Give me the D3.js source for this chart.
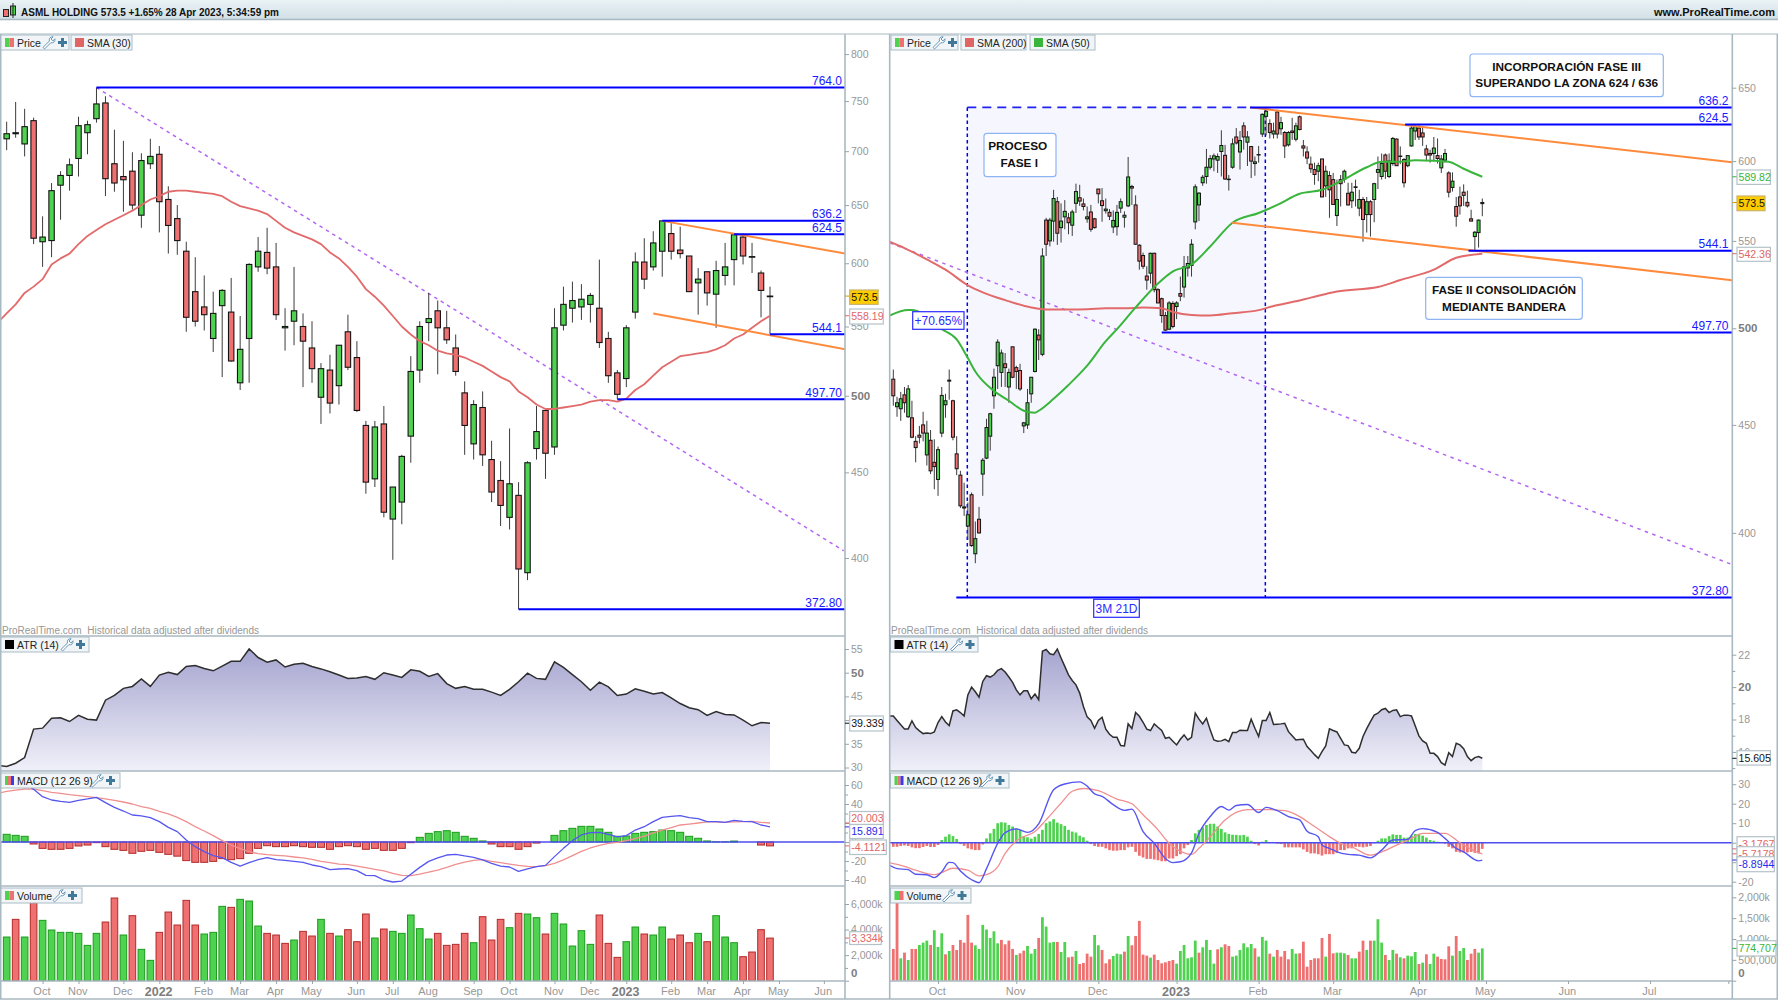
<!DOCTYPE html>
<html>
<head>
<meta charset="utf-8">
<title>ASML Holding</title>
<script src="https://cdnjs.cloudflare.com/ajax/libs/d3/7.8.5/d3.min.js"></script>
<style>
html,body{margin:0;padding:0;background:#fff;overflow:hidden}
svg{display:block}
text{font-family:"Liberation Sans",Arial,sans-serif}
</style>
</head>
<body>
<svg id="chart" width="1778" height="1000"></svg>
<script>
// ---------- weekly candles ----------
const weeklyOpen=[712,717,707,730,618,619,668,677,693,718,732,748,688,676,681,641,688,697,655,638,610,577,565,541,566,561,509,541,597,609,597,549,554,550,534,499,518,507,546,527,480,446,481,422,432,473,518,553,562,549,534,502,468,492,458,445,423,436,392,465,490,466,551,564,565,567,564,541,516,512,561,601,597,610,625,611,606,584,593,575,590,603,622,605,592,573];
const weeklyHigh=[729,749,742,733,640,670,681,693,734,730,764,755,721,710,699,698,712,705,667,650,618,605,590,577,579,588,558,600,622,630,617,564,597,560,554,523,529,536,559,539,483,483,493,441,461,528,554,576,570,562,544,510,497,503,470,457,478,444,457,493,490,564,581,585,583,576,603,546,518,551,609,621,627,636.2,634,631,606,596,593,602,617,624.5,625,617,594,581];
const weeklyLow=[701,713,695,616,597,605,637,663,676,697,728,658,662,644,646,630,683,626,608,607,546,550,547,531,513,524,504,509,593,591,555,532,536,506,509,481,488,494,518,489,437,441,423,399,419,456,509,539,515,537,514,461,458,454,432,418,416,372.8,388,458,446,461,547,553,555,553,534,509,497.7,506,556,579,594,589,603,604,577,559,566,549,582,582,599,592,557,544.1];
const weeklyClose=[717,718,724,621,622,663,677,687,725,726,747,674,670,673,650,691,695,653,632,619,557,554,559,560,578,524.5,533,599,610,596,559,550,562,539,519,519,495,536,520,490,444,479,426,441,460,517,550,556,549,540,517,480,494,461,438,430,443,394,456,476,462,549,567,570,571,574,538,514,501,549,601,587,617,636,610,608,577,587,576,594,597,624,606,605.5,578,573.5];
// 30-period average, first entry sits one bar before the first candle
const weeklySma30=[553,560,567,576,581,587,599,604,608,616,623,628,633,637,641,645,650,655,658,662,663,663,662,661,660,658,653,649,647,645,642,636,630,626,623,620,616,609,604,597,589,579,573,566,558,550,544,539,536,532,530,529,527,524,521,517,513,510,503,499,494,491,491,492,493,494,496,497,497,496,498,504,508,514,520,524,528,529,530,531,533,536,541,544,549,554,558.19];
// ATR (14) on weekly bars
const weeklyAtr=[30.5,30.2,30.9,32.1,38.1,38.3,40.4,40.5,39.7,41.0,40.2,40.0,44.2,45.2,46.7,47.1,48.7,47.1,49.5,50.1,49.6,51.3,51.5,50.9,50.4,51.4,52.4,52.4,55.0,53.2,52.2,52.7,51.2,51.8,52.0,51.3,50.8,50.2,49.5,48.8,48.9,49.2,48.6,50.0,49.5,49.0,50.6,50.3,49.2,49.8,47.7,46.7,47.1,46.5,46.5,45.9,45.2,46.5,48.1,49.9,48.8,48.6,52.3,51.1,49.6,48.1,46.3,48.0,47.0,45.2,45.5,46.6,46.1,45.5,45.8,44.7,43.5,42.6,42.2,41.0,41.8,41.2,41.1,40.0,38.8,39.5,39.339];
// MACD (12 26 9) on weekly bars
const weeklyMacd=[65.3,65.3,64.6,61.8,55.4,47.7,44.2,42.8,41.8,43.9,45.3,47.0,41.4,36.5,32.6,28.4,27.4,25.6,21.4,15.4,10.9,2.1,-4.9,-10.2,-14.4,-16.5,-21.4,-25.3,-21.8,-18.6,-16.5,-18.6,-19.3,-20.4,-21.4,-24.2,-26.0,-29.1,-28.4,-28.1,-30.2,-35.1,-35.4,-40,-42.1,-41.1,-34.0,-26.7,-20.4,-16.8,-13.7,-13.0,-14.7,-16.1,-18.9,-22.5,-25.3,-26.3,-30.9,-28.4,-26.0,-24.6,-15.4,-6.7,1.4,7.4,9.8,10.2,8.1,5.3,6.7,12.6,16.1,21.4,26.0,27.0,27.7,25.6,24.6,21.4,21.4,20.7,22.8,21.8,21.4,17.9,15.891];
const weeklySignal=[51.2,53.3,54.7,55.8,55.8,54.0,52.3,51.2,49.8,48.8,47.7,46.7,45.3,43.9,42.1,40.0,37.2,35.4,32.3,29.5,26.0,21.4,16.1,11.6,6.7,1.4,-3.2,-7.0,-10.2,-12.3,-13.3,-14.0,-14.7,-15.8,-16.8,-18.2,-20.4,-21.8,-23.2,-23.9,-25.3,-27.0,-28.8,-30.5,-33.0,-35.1,-35.4,-33.7,-31.6,-29.5,-26.7,-23.5,-21.1,-19.3,-18.6,-20.4,-21.8,-23.2,-24.6,-25.6,-26.0,-24.9,-22.5,-18.9,-14.4,-9.8,-6.3,-3.5,-1.4,-0.4,1.4,3.5,6.3,9.5,12.6,15.1,17.9,18.9,20.0,21.1,21.1,20.7,21.1,21.4,21.8,20.7,20.003];
const weeklyHist=[8.1,7.0,6.0,-2.1,-6.7,-7.7,-7.7,-6.7,-4.2,-3.2,-0.7,-4.9,-7.7,-8.8,-11.9,-9.8,-8.8,-10.9,-13.0,-14.9,-19.6,-21.4,-21.4,-20.4,-17.5,-18.6,-17.5,-11.9,-6.7,-3.9,-4.9,-4.9,-3.9,-4.9,-5.6,-5.6,-7.7,-4.9,-3.9,-4.9,-7.7,-6.7,-8.8,-8.8,-6.7,-0.7,4.9,9.1,10.9,11.9,10.2,6.0,3.9,1.1,-2.1,-4.9,-4.9,-7.7,-4.9,-1.1,0,7.0,11.9,14.4,16.5,16.5,13.7,10.2,6.0,6.3,9.1,10.2,10.9,12.6,11.9,10.2,6.0,3.9,1.1,0.2,0.2,1.0,0,0,-3.2,-4.1121];
// volume, thousands of shares; 1 = up bar
const weeklyVolume=[3416,4799,3416,6103,4720,3964,3782,3782,3703,2764,3703,4590,6468,3573,5086,2452,1591,3782,5372,4355,6285,4355,3651,3782,5816,5738,6364,6233,4277,3703,3573,2921,3182,3860,3495,4799,3703,3495,3990,3051,5216,3338,4042,3860,3703,5138,4068,3260,3703,2764,2843,3703,2973,5007,3182,4799,4147,5268,5216,4929,3651,5268,4434,2712,3912,2843,5138,2921,1826,3051,4199,3651,3573,4199,3260,3573,2973,3703,3051,5086,3416,2973,1878,2243,3990,3334];
const weeklyVolumeUp=[1,0,1,0,1,1,1,1,1,1,1,0,0,1,0,1,1,0,0,0,0,0,1,1,1,0,1,1,1,0,0,0,1,0,0,1,0,1,0,0,0,1,0,1,1,1,1,1,0,0,0,0,1,0,0,0,1,0,1,1,0,1,1,1,1,1,0,0,0,1,1,0,1,1,0,0,0,1,0,1,1,1,0,0,0,0];
const weeklyTickBars=[4,8,13,17,22,26,30,34,39,43,47,52,56,61,65,69,74,78,82,86,91];
const weeklyTickLabels=["Oct","Nov","Dec","2022","Feb","Mar","Apr","May","Jun","Jul","Aug","Sep","Oct","Nov","Dec","2023","Feb","Mar","Apr","May","Jun"];
// weekly levels: price, bar the segment starts on
const weeklyLevels=[764,636.2,624.5,544.1,497.7,372.8];
const weeklyLevelStart=[10,73,81,85,68,57];
const weeklyLevelText=["764.0","636.2","624.5","544.1","497.70","372.80"];
const weeklyDownBars=[10,93.2], weeklyDownPrices=[764,404];
const weeklyFlagTopBars=[73,93.4], weeklyFlagTopPrices=[636,608];
const weeklyFlagLowBars=[72,93.4], weeklyFlagLowPrices=[560,533];

// ---------- daily candles ----------
const dailyOpen=[473,459,458,465,454,453.5,442,445,450,435.5,442.5,432,424,446,460,472,462,436,426,411.5,403,417,391,406,426.5,434,444.5,464.5,480,476.5,481,469,490,479,477.5,449.5,450,465.5,477,496.3,486,562.6,550,562,574,558,564.6,564,559.5,573,576.5,572.6,563.4,567.6,563.4,582,574.6,568.4,567.4,558.4,558.6,570,564.4,571.4,583.6,572,547.4,541.3,529.3,531,542.6,521.5,516.4,507,499.5,513.7,512,519.3,523,534,535.5,561.5,572,586,590,596,601.4,600.6,606.3,603.8,588.3,596,616,606,623.5,612.5,609.6,598.4,604,618,630,625,618,633,621.5,619,610.7,620,614.5,629.7,610,606,598,594.5,593.4,601.4,584,590.6,588,565.4,588,588.4,579.3,574.6,583,570,575.4,566,574,575.4,592.7,590,604,590,598.4,614.6,603,601,597,610,620,622,618.7,608,605,605,603.6,595.6,600.6,592.3,583,571,577,580,573.6,563.4,552.6,555,572.8];
const dailyHigh=[478,464,466.5,469,470,462,444.5,449.5,456.5,452,447.5,443,439.5,469,465.5,478,462.5,444.5,428,422.5,413.5,418,405,411.5,434,453,456,478.5,494,488.5,486.7,478.5,490,480,481,451.5,468,474,500,499.5,545.6,564,564,581.5,577,573,575,567,569,585.4,584.7,576,571,572,564,582,582.6,576,569.4,568.6,572,576,568,602.7,584.7,578,548,543,535,543,543,522.4,517,509,515,515,515,529,541,541,551,585,580,591,608,604,605,605,620.5,610.7,591,615,622,620,626,620,610,603,610,632,636.2,628,625.7,634.5,629.7,620,620,629,625.7,630.6,614,609.7,603,599,599,601.4,597,593.4,592.3,588,591,594.5,586,586,588,581.5,577,577,575,586,603,605,605,605,616,615,609.7,602,604,624,624,624,623,610.7,607.5,616,615,604,608,593.4,592.7,577,583.5,585,581,569,556,563,576];
const dailyLow=[459.5,454,452,456,453.5,443.5,432,441,442,430.5,426.5,419.5,416.5,444,453.5,462.5,442.5,426,411,407.5,397,394,387,399.7,416.5,433.5,437.5,458,468,469,469,461,473.5,468,467,446,448,461,476.5,483,485,541,546.7,549.5,547.6,549,557,554,553,567,571.4,568.6,561,555.5,557.4,573,561.6,566.6,562.6,554.7,553.2,567,558,570.6,572,547.6,533,533.4,521.5,525,520,514,503,498.6,499,500,505,515,517,529,529,557,562,584,585.4,594.5,593.4,592.3,590,587.8,581,595,611,594.5,607.5,596.8,589,590.5,599,616,617,615,615,615,617.5,602,609.6,614,613,620.5,603,598,592.3,584.7,587,577,577,564,572,559,571,586,571.6,570,571,565,549.5,555,552.6,561.3,582,588,588.4,589,597,597,598,583,596,609.5,614,614,610,600,599,600,598.4,592.3,599,576.7,580.4,558.6,566,571.4,570.4,562,544.1,546,565];
const dailyClose=[464.5,461,463,461,468,444,439,444,446,446,428,430,438,464.7,462,472.5,444,429,412,411,408,394.5,397.5,400,433,448.7,455.5,474,492.5,486.7,479,476.5,474,477,468,451,461,474,499.5,493.7,541,548,562.6,576,554.6,562,568,561,567.6,580.4,574.4,571,564.6,557,558,579,571.6,569.4,565,562.4,567.4,574,565.6,589.7,582.6,548,538,535,527,542.6,521.5,514,507,499,514,501,514,517.8,534.6,536.6,548,583.4,579.4,589.5,596,601.6,603.4,603,610.3,588.4,588,611.4,612,613.6,616,616,600,599.5,604.3,631.4,633.5,619,620,618,625.7,610,619,619,623.5,621,608.6,602,595,591.3,597,577,593.4,581.5,572.3,575.4,585.4,593.4,572,580,583.4,575.4,563,574,566,585.4,594.5,598.4,593.4,600,615,597,603.3,586,603.6,622,623,616,616,604,604,608.6,601.7,601.4,605,580,587,565,571.4,578,571.4,562,555.2,562.6,573.5];
// sparse vertices of the two daily averages: bar, price
const dailySma200Bars=[-1,3,9,14,20,24,30,37,41,47,52,57,62,67,72,75,80,85,91,98,102,107,112,119,130,136,145,151,158];
const dailySma200=[549.5,545.7,539,533,524,520,515.6,511.5,510.4,510.4,510.5,511,511,511.5,511,509,507.3,507,508.3,510,512.3,514.5,517,520.5,523,527,533,540,542.36];
const dailySma50Bars=[-1,4,5,13,17,20,22,27,31,35,38,39,43,47,52,57,60,65,71,75,80,85,91,98,103,109,115,120,127,131,136,140,145,149,153,158];
const dailySma50=[507,510,510,499.5,494,484,477,467,462,457,456,457,463,470,480,493,499.5,511.5,525,532,536,546.6,561,567,572,579,581.5,587,596,599.6,599.6,600.5,600.3,599.6,595,589.82];
// ATR (14) on daily bars, first entry sits one bar before the first candle
const dailyAtr=[18.22,18.22,17.94,17.67,17.42,17.42,17.92,17.50,17.30,17.13,17.17,17.13,17.23,17.81,18.18,17.85,17.63,18.53,18.60,18.43,18.22,19.52,20.0,19.71,19.38,20.35,20.70,20.62,20.76,21.03,21.14,20.93,20.62,20.29,19.83,19.52,19.77,19.77,19.28,19.57,19.22,22.21,22.33,22.06,22.0,22.35,21.8,21.28,20.76,20.41,20.14,19.63,18.8,18.16,17.94,17.46,17.94,18.14,17.4,17.09,16.9,16.9,16.39,16.37,17.73,17.44,18.43,18.2,17.83,17.4,17.32,17.73,17.52,17.32,16.84,16.9,16.66,16.43,16.78,17.05,16.74,16.9,18.39,18.02,17.73,18.08,17.36,16.74,16.66,16.68,16.78,16.64,17.19,17.19,17.34,17.32,17.32,18.02,17.46,16.95,17.94,17.94,18.43,17.69,17.71,17.73,17.77,17.25,16.99,16.74,16.76,16.78,16.33,16.08,15.83,15.6,16.02,16.37,17.42,17.32,17.23,16.84,16.43,16.39,15.98,15.93,16.22,16.95,17.44,17.87,18.27,18.39,18.6,18.68,18.43,18.56,18.6,18.18,18.27,18.27,18.22,17.61,16.99,16.68,16.53,15.91,15.91,15.71,15.34,15.19,15.95,15.71,16.53,16.43,16.2,15.71,15.46,15.65,15.71,15.605];
// MACD (12 26 9) on daily bars, sparse vertices plus one histogram value per bar
const dailyMacdBars=[-1,1,4,6,9,11,13,15,16,18,21,23,25,28,30,33,36,39,43,46,50,52,54,56,59,62,64,67,70,73,75,77,80,82,85,88,90,92,95,98,100,103,106,109,111,114,115,117,119,122,125,128,131,134,138,140,142,146,148,151,153,157,158];
const dailyMacd=[-11.6,-13.3,-13.8,-16.2,-16.4,-17.9,-14.9,-10.1,-10.2,-14.5,-19,-20.5,-13.3,-0.3,5.2,7.1,5.3,9.7,27.2,30.1,31.2,29,25,23.8,19.5,16.6,17.2,5.7,-0.3,-8.1,-10.2,-9.8,-5.2,4.8,13.4,18.6,16.7,19.1,19.6,15.5,18.1,16.4,13.4,11.7,5.9,3.1,-1.2,-2.9,-4.7,-6.0,-6.4,-7.8,-3.8,1.4,1.7,6.2,7.2,5.3,2.2,-2.9,-4.7,-9.3,-8.8944];
const dailySignalBars=[-1,3,6,11,13,16,20,23,25,28,30,33,38,41,45,48,51,55,60,64,67,71,74,78,80,82,85,89,95,100,105,109,113,117,120,123,128,131,135,139,142,148,152,156,158];
const dailySignal=[-10.3,-12.1,-14.1,-16.4,-15.3,-13.1,-14.1,-17,-16.4,-12.4,-5.5,1,5.7,11.7,20.3,26.4,27.8,26.7,22.4,20,14.3,6.6,-0.3,-5.2,-6,-2.9,3,11.7,17,17,16.4,13.4,8.3,3.1,-0.3,-2.1,-6.4,-4.7,-1.2,2.2,4.8,4.8,0,-4.3,-5.7178];
const dailyHist=[-2.1,-2.1,-1.7,-1.4,-1.7,-2.4,-2.8,-2.8,-2.2,-1.7,-2.2,-2.2,-1.2,1.4,3.1,4.3,3.4,1.9,-0.7,-1.6,-2.9,-3.4,-3.8,-3.8,-0.9,2.2,4.8,7.1,10,10.5,10.3,9.1,8.3,7.4,6.6,3.4,2.8,2.1,3.1,4.5,6.6,10,10.9,12.1,10.3,9.5,8.6,6.6,5.7,5.2,3.6,2.8,1,-0.7,-1.7,-2.1,-2.1,-2.9,-3.8,-4.1,-4.1,-3.8,-3.8,-2.4,-2.1,-4.7,-6.7,-7.6,-8.3,-8.3,-8.6,-9,-9.5,-9.5,-8.1,-8.1,-6.9,-5.9,-2.9,-1.2,1.4,4.8,6.6,7.9,9.1,9.7,9.7,8.3,7.1,5.3,4.5,4.1,4,3.8,4,3.1,1,-0.7,-1.4,0.5,1.4,0.3,0.1,-0.5,-0.7,-2.4,-2.4,-2.4,-2.4,-2.4,-3.4,-4.7,-5.5,-5.5,-5.9,-6.6,-5.9,-5.9,-5.9,-5.2,-3.8,-3.8,-2.9,-2.9,-2.1,-2.1,-2.4,-2.1,-1.7,-0.3,1,2.2,2.2,3.4,4.3,4,4,2.6,2.6,3.6,4.5,4.5,3.6,2.6,1.4,1,0.5,0.1,-0.5,-2.1,-2.9,-4.7,-5,-5,-5,-4.7,-5.2,-5.5,-3.1767];
// daily volume, thousands of shares; 1 = up bar
const dailyVolume=[761,2200,537,673,497,761,761,857,913,961,857,1210,809,1137,633,713,857,737,977,913,1578,913,849,761,1338,1226,1025,1185,897,977,873,961,761,617,657,721,833,649,761,1025,1522,1298,913,929,929,689,929,561,577,713,401,425,649,577,1097,849,737,417,513,593,649,633,697,1073,849,1073,1434,625,601,553,625,497,417,441,473,497,409,713,857,537,561,961,673,801,977,737,409,753,801,873,833,577,601,737,897,801,881,777,577,1049,961,649,577,737,577,713,513,761,649,657,937,336,497,537,537,1025,577,1121,657,673,673,657,617,537,537,697,961,737,961,961,1474,913,617,497,737,649,561,537,601,585,689,401,433,633,401,649,577,521,513,825,601,1073,713,785,497,649,761,673,774.707];
const dailyVolumeUp=[0,0,1,0,1,0,0,1,1,1,0,1,1,1,0,1,0,0,0,0,0,0,1,1,1,1,1,1,1,0,0,0,0,1,0,0,1,1,1,0,1,1,1,1,0,1,1,0,0,1,0,0,0,0,1,1,0,0,0,1,1,1,0,1,0,0,0,0,0,1,0,0,0,0,0,0,1,1,1,1,1,1,0,1,1,1,1,0,1,0,0,1,1,1,1,1,1,0,1,1,1,0,1,0,0,0,0,1,1,0,0,0,0,0,0,0,1,0,0,1,1,1,0,1,1,0,0,1,0,1,1,1,0,1,1,0,1,0,1,1,1,0,1,0,1,1,0,0,0,0,1,0,1,1,0,0,0,1,1];
const dailyTickBars=[12,33,55,76,98,118,141,159,181,203,224];
const dailyTickLabels=["Oct","Nov","Dec","2023","Feb","Mar","Apr","May","Jun","Jul",""];
const dailyLevels=[636.2,624.5,544.1,497.7,372.8];
const dailyLevelStart=[95.7,137.3,154.3,72,16.9];
const dailyLevelText=["636.2","624.5","544.1","497.70","372.80"];
const dailyDownBars=[-0.9,224.9], dailyDownPrices=[548.8,386.5];
const dailyFlagTopBars=[95.7,225.9], dailyFlagTopPrices=[636.2,599];
const dailyFlagLowBars=[90.9,225.9], dailyFlagLowPrices=[561,526.6];
const phaseBars=[19.85,99.8];

// ---------- palette ----------
const UP="#4fd24f",UP_DK="#1b9b1b",DN="#ee7070",DN_DK="#b32a2a";
const BLUE="#0000ff",FRAME="#a9b9c1",TICK="#98a4aa",LABEL="#979797";

const svg=d3.select("#chart");
const defs=svg.append("defs");

// shared helpers -------------------------------------------------
function clip(id,x,y,w,h){defs.append("clipPath").attr("id",id).append("rect").attr("x",x).attr("y",y).attr("width",w).attr("height",h);}
function panel(clipId){return svg.append("g").attr("clip-path",`url(#${clipId})`);}
function segment(g,x,y,bars,prices,color,width,dash){
  g.append("line").attr("x1",x(bars[0])).attr("y1",y(prices[0])).attr("x2",x(bars[1])).attr("y2",y(prices[1]))
   .attr("stroke",color).attr("stroke-width",width).attr("stroke-dasharray",dash||null);
}
function candles(g,x,y,o,h,l,c,bodyW,strokeW){
  const bars=d3.range(o.length);
  g.append("g").selectAll("line").data(bars).join("line")
    .attr("x1",i=>x(i)).attr("x2",i=>x(i)).attr("y1",i=>y(h[i])).attr("y2",i=>y(l[i]))
    .attr("stroke","#3c3c3c").attr("stroke-width",1);
  g.append("g").selectAll("rect").data(bars).join("rect")
    .attr("x",i=>x(i)-bodyW/2).attr("width",bodyW)
    .attr("y",i=>y(Math.max(o[i],c[i]))).attr("height",i=>Math.max(0.2,Math.abs(y(o[i])-y(c[i]))))
    .attr("fill",i=>c[i]>=o[i]?UP:DN).attr("stroke","#141414").attr("stroke-width",strokeW);
}
function polyline(g,xs,ys,x,y,color,width,curve){
  g.append("path").datum(d3.range(ys.length))
    .attr("d",d3.line().curve(curve||d3.curveLinear).x(i=>x(xs[i])).y(i=>y(ys[i])))
    .attr("fill","none").attr("stroke",color).attr("stroke-width",width).attr("stroke-linejoin","round");
}
function priceLevels(g,x,y,levels,starts,right){
  levels.forEach((v,k)=>{
    g.append("line").attr("x1",x(starts[k])).attr("x2",right).attr("y1",y(v)).attr("y2",y(v)).attr("stroke",BLUE).attr("stroke-width",2);
  });
}
function levelLabels(y,levels,texts,xRight){
  svg.append("g").selectAll("text").data(levels).join("text")
    .attr("x",xRight).attr("y",d=>y(d)-2.5).attr("text-anchor","end")
    .attr("font-size",12).attr("fill","#1a1aff").text((d,i)=>texts[i]);
}
function rightAxis(xAt,y,major,minor,fmt,boldSet){
  const g=svg.append("g").attr("transform",`translate(${xAt},0)`);
  if(minor&&minor.length){
    const m=g.append("g").call(d3.axisRight(y).tickValues(minor).tickSize(3).tickFormat(""));
    m.select(".domain").remove();
    m.selectAll("line").attr("stroke",TICK);
  }
  const a=g.append("g").call(d3.axisRight(y).tickValues(major).tickSize(4).tickPadding(2).tickFormat(fmt||(d=>d)));
  a.select(".domain").remove();
  a.selectAll("line").attr("stroke",TICK);
  a.selectAll("text").attr("fill",LABEL).attr("font-size",10.5).attr("font-family",'"Liberation Sans",Arial,sans-serif')
    .each(function(d){
      if(boldSet&&boldSet.includes(d)) d3.select(this).attr("font-weight","bold").attr("font-size",11.5).attr("fill","#7d7d7d");
      if(d===0&&boldSet&&boldSet.includes(0)&&fmt) d3.select(this).attr("dy","-0.35em");
    });
}
function timeAxis(x,bars,labels,yAt){
  const a=svg.append("g").attr("transform",`translate(0,${yAt})`)
    .call(d3.axisBottom(x).tickValues(bars).tickSize(3).tickPadding(3).tickFormat((d,i)=>labels[i]));
  a.select(".domain").remove();
  a.selectAll("line").attr("stroke",TICK);
  a.selectAll("text").attr("fill",LABEL).attr("font-size",11).attr("dx",-1.2).attr("font-family",'"Liberation Sans",Arial,sans-serif')
    .each(function(d,i){ if(/^\d{4}$/.test(labels[i])) d3.select(this).attr("font-weight","bold").attr("font-size",12.5).attr("fill","#7d7d7d"); });
}
function valueTag(axisX,tickY,top,w,h,text,color,fill){
  const left=axisX+4.7;
  svg.append("line").attr("x1",axisX).attr("x2",left).attr("y1",tickY).attr("y2",tickY).attr("stroke",color);
  svg.append("rect").attr("x",left).attr("y",top).attr("width",w).attr("height",h)
    .attr("fill",fill||"#fff").attr("stroke",fill?"#c9b26a":"#b4c2c8").attr("stroke-width",1.2);
  svg.append("text").attr("x",left+1.5).attr("y",top+h/2+3.8).attr("font-size",10.6).attr("fill",fill?"#111":color).text(text);
}
function wrench(x,y){
  svg.append("path").attr("transform",`translate(${x},${y}) scale(1.15)`)
    .attr("d","M0,9.5 L5.6,3.9 C5,1.6 6.6,0 8.8,0.2 L7,2.2 L8.6,3.9 L10.4,2 C10.8,4.3 9,6 6.8,5.4 L1.4,10.8 Z")
    .attr("fill","#fff").attr("stroke","#5b8fb0").attr("stroke-width",0.8);
}
function plusIcon(x,y){
  svg.append("path").attr("transform",`translate(${x},${y})`)
    .attr("d","M3,0 h3 v3 h3 v3 h-3 v3 h-3 v-3 h-3 v-3 h3 Z").attr("fill","#3f7899");
}
function legendChip(x,y,w,label,swatch,tools){
  svg.append("rect").attr("x",x).attr("y",y).attr("width",w).attr("height",15).attr("fill","#f1f5f7").attr("stroke","#a9bcc6");
  const sw=9/swatch.length;
  swatch.forEach((c,i)=>svg.append("rect").attr("x",x+4+i*sw).attr("y",y+3).attr("width",sw).attr("height",9).attr("fill",c));
  svg.append("text").attr("x",x+16).attr("y",y+11.5).attr("font-size",10.5).attr("fill","#222").text(label);
  if(tools!==undefined){ wrench(x+tools,y+1.5); plusIcon(x+tools+15,y+3); }
}
function noteBox(x0,y0,x1,y1,lines,cx,ys){
  svg.append("rect").attr("x",x0).attr("y",y0).attr("width",x1-x0).attr("height",y1-y0).attr("rx",3)
    .attr("fill","#fff").attr("stroke","#8fb4f2").attr("stroke-width",1.2);
  lines.forEach((t,i)=>svg.append("text").attr("x",cx[i]).attr("y",ys[i]+4).attr("text-anchor","middle")
    .attr("font-size",11.8).attr("font-weight","bold").attr("fill","#111").text(t));
}
function blueBox(x0,y0,x1,y1,t){
  svg.append("rect").attr("x",x0).attr("y",y0).attr("width",x1-x0).attr("height",y1-y0).attr("fill","#fff").attr("stroke","#2a2aff").attr("stroke-width",1.2);
  svg.append("text").attr("x",(x0+x1)/2).attr("y",(y0+y1)/2+4.5).attr("text-anchor","middle").attr("font-size",12).attr("fill","#2a2aff").text(t);
}

// page chrome ----------------------------------------------------
const barGrad=defs.append("linearGradient").attr("id","topBar").attr("x1",0).attr("x2",0).attr("y1",0).attr("y2",1);
barGrad.append("stop").attr("offset","0%").attr("stop-color","#eaf2f5");
barGrad.append("stop").attr("offset","100%").attr("stop-color","#d2e0e6");
svg.append("rect").attr("width",1778).attr("height",19).attr("fill","url(#topBar)");
svg.append("line").attr("x1",0).attr("x2",1778).attr("y1",19.5).attr("y2",19.5).attr("stroke",FRAME).attr("stroke-width",1.5);
svg.append("line").attr("x1",0).attr("x2",1778).attr("y1",34).attr("y2",34).attr("stroke",FRAME).attr("stroke-width",1.2);
svg.append("rect").attr("x",3.5).attr("y",9.5).attr("width",5).attr("height",7).attr("fill",DN).attr("stroke","#222");
svg.append("rect").attr("x",10.5).attr("y",6).attr("width",5).attr("height",9).attr("fill",UP).attr("stroke","#222");
svg.append("line").attr("x1",13).attr("x2",13).attr("y1",3).attr("y2",18).attr("stroke","#222");
svg.append("text").attr("x",21).attr("y",16).attr("font-size",10.6).attr("font-weight","bold").attr("fill","#111")
  .attr("textLength",258).attr("lengthAdjust","spacingAndGlyphs")
  .text("ASML HOLDING 573.5 +1.65% 28 Apr 2023, 5:34:59 pm");
svg.append("text").attr("x",1775).attr("y",16).attr("text-anchor","end").attr("font-size",11).attr("font-weight","bold").attr("fill","#111")
  .text("www.ProRealTime.com");

// gradient shared by both ATR areas
const atrGrad=defs.append("linearGradient").attr("id","atrFill").attr("gradientUnits","userSpaceOnUse").attr("x1",0).attr("x2",0).attr("y1",645).attr("y2",771);
atrGrad.append("stop").attr("offset","0%").attr("stop-color","#a3a2ce");
atrGrad.append("stop").attr("offset","100%").attr("stop-color","#f0f0f9");

const FOOTNOTE="ProRealTime.com\u00a0\u00a0Historical data adjusted after dividends";

// ---------- weekly side ----------
const xW=d3.scaleLinear().domain([0,85]).range([6.67,770]);
const yW=d3.scaleLog().domain([400,800]).range([558,54.1]);
const yWAtr=d3.scaleLinear().domain([30,55]).range([767.5,649]);
const yWMacd=d3.scaleLinear().domain([-40,60]).range([880,785]);
const yWVol=d3.scaleLinear().domain([0,6000]).range([980.7,904]);
clip("wP",1,35,844,600); clip("wA",1,637,844,134); clip("wM",1,772,844,114); clip("wV",1,887,844,94);

const wP=panel("wP");
segment(wP,xW,yW,weeklyDownBars,weeklyDownPrices,"#b366f2",1.5,"3.5,4");
candles(wP,xW,yW,weeklyOpen,weeklyHigh,weeklyLow,weeklyClose,5.4,1.1);
polyline(wP,weeklySma30.map((d,i)=>i-1),weeklySma30,xW,yW,"#e26a6a",1.8);
segment(wP,xW,yW,weeklyFlagTopBars,weeklyFlagTopPrices,"#ff8a3c",2);
segment(wP,xW,yW,weeklyFlagLowBars,weeklyFlagLowPrices,"#ff8a3c",2);
priceLevels(wP,xW,yW,weeklyLevels,weeklyLevelStart,845);
levelLabels(yW,weeklyLevels,weeklyLevelText,842);
svg.append("text").attr("x",2).attr("y",633.5).attr("font-size",10).attr("fill",LABEL).text(FOOTNOTE);

const wA=panel("wA");
const wAIdx=d3.range(weeklyAtr.length);
wA.append("path").datum(wAIdx).attr("d",d3.area().x(i=>xW(i-1)).y0(771).y1(i=>yWAtr(weeklyAtr[i]))).attr("fill","url(#atrFill)");
wA.append("path").datum(wAIdx).attr("d",d3.line().x(i=>xW(i-1)).y(i=>yWAtr(weeklyAtr[i]))).attr("fill","none").attr("stroke","#2e2e2e").attr("stroke-width",1.5);

function histogram(g,x,y,vals,w,stroke){
  g.append("g").selectAll("rect").data(vals).join("rect")
    .attr("x",(d,i)=>x(i)-w/2).attr("width",w)
    .attr("y",d=>Math.min(y(d),y(0))).attr("height",d=>Math.abs(y(d)-y(0)))
    .attr("fill",d=>d>=0?UP:DN)
    .attr("stroke",stroke?(d=>d>=0?UP_DK:DN_DK):null).attr("stroke-width",stroke?1:null);
}
const wM=panel("wM");
histogram(wM,xW,yWMacd,weeklyHist,7,true);
wM.append("line").attr("x1",0).attr("x2",845).attr("y1",yWMacd(0)).attr("y2",yWMacd(0)).attr("stroke","#4d4df0").attr("stroke-width",1.5);
polyline(wM,weeklySignal.map((d,i)=>i-1),weeklySignal,xW,yWMacd,"#f08f8f",1.3);
polyline(wM,weeklyMacd.map((d,i)=>i-1),weeklyMacd,xW,yWMacd,"#5656f0",1.3);

function volumes(g,x,y,vals,up,w,stroke){
  g.append("g").selectAll("rect").data(vals).join("rect")
    .attr("x",(d,i)=>x(i)-w/2).attr("width",w).attr("y",d=>y(d)).attr("height",d=>y(0)-y(d))
    .attr("fill",(d,i)=>up[i]?UP:DN)
    .attr("stroke",stroke?((d,i)=>up[i]?UP_DK:DN_DK):null).attr("stroke-width",stroke?1:null);
}
volumes(panel("wV"),xW,yWVol,weeklyVolume,weeklyVolumeUp,6.6,true);

// ---------- daily side ----------
const xD=d3.scaleLinear().domain([0,158]).range([893.3,1482.3]);
const yD=d3.scaleLog().domain([400,650]).range([532.9,87.7]);
const yDAtr=d3.scaleLinear().domain([16,22]).range([751.9,654.7]);
const yDMacd=d3.scaleLinear().domain([-20,30]).range([881.7,784.2]);
const yDVol=d3.scaleLinear().domain([0,2000]).range([980.7,897.3]);
clip("dP",890,35,842,600); clip("dA",890,637,842,134); clip("dM",890,772,842,114); clip("dV",890,887,842,94);

const dP=panel("dP");
dP.append("rect").attr("x",xD(phaseBars[0])).attr("width",xD(phaseBars[1])-xD(phaseBars[0]))
  .attr("y",yD(636.2)).attr("height",yD(372.8)-yD(636.2)).attr("fill","#f6f7fe");
dP.append("line").attr("x1",xD(phaseBars[0])).attr("x2",xD(95.7)).attr("y1",yD(636.2)).attr("y2",yD(636.2))
  .attr("stroke","#2222ee").attr("stroke-width",1.6).attr("stroke-dasharray","9,6");
phaseBars.forEach(b=>dP.append("line").attr("x1",xD(b)).attr("x2",xD(b)).attr("y1",yD(636.2)).attr("y2",yD(372.8))
  .attr("stroke","#0000ee").attr("stroke-width",1.5).attr("stroke-dasharray","3.5,3"));
segment(dP,xD,yD,dailyDownBars,dailyDownPrices,"#b366f2",1.5,"3.5,4.5");
candles(dP,xD,yD,dailyOpen,dailyHigh,dailyLow,dailyClose,3,1);
polyline(dP,dailySma200Bars,dailySma200,xD,yD,"#e26a6a",2,d3.curveMonotoneX);
polyline(dP,dailySma50Bars,dailySma50,xD,yD,"#39b53c",2,d3.curveMonotoneX);
segment(dP,xD,yD,dailyFlagTopBars,dailyFlagTopPrices,"#ff8a3c",2);
segment(dP,xD,yD,dailyFlagLowBars,dailyFlagLowPrices,"#ff8a3c",2);
priceLevels(dP,xD,yD,dailyLevels,dailyLevelStart,1732);
levelLabels(yD,dailyLevels,dailyLevelText,1728.5);
svg.append("text").attr("x",891).attr("y",633.5).attr("font-size",10).attr("fill",LABEL).text(FOOTNOTE);

const dA=panel("dA");
const dAIdx=d3.range(dailyAtr.length);
dA.append("path").datum(dAIdx).attr("d",d3.area().x(i=>xD(i-1)).y0(771).y1(i=>yDAtr(dailyAtr[i]))).attr("fill","url(#atrFill)");
dA.append("path").datum(dAIdx).attr("d",d3.line().x(i=>xD(i-1)).y(i=>yDAtr(dailyAtr[i]))).attr("fill","none").attr("stroke","#2e2e2e").attr("stroke-width",1.5);

const dM=panel("dM");
histogram(dM,xD,yDMacd,dailyHist,2.7,false);
dM.append("line").attr("x1",890).attr("x2",1732).attr("y1",yDMacd(0)).attr("y2",yDMacd(0)).attr("stroke","#4d4df0").attr("stroke-width",1.5);
polyline(dM,dailySignalBars,dailySignal,xD,yDMacd,"#f08f8f",1.3,d3.curveMonotoneX);
polyline(dM,dailyMacdBars,dailyMacd,xD,yDMacd,"#5656f0",1.4,d3.curveMonotoneX);

volumes(panel("dV"),xD,yDVol,dailyVolume,dailyVolumeUp,2.8,false);

// panel frames --------------------------------------------------
[[0,845],[889.5,1732]].forEach(([a,b])=>{
  [636,771,886].forEach(y=>svg.append("line").attr("x1",a).attr("x2",b).attr("y1",y).attr("y2",y).attr("stroke",FRAME).attr("stroke-width",1.3));
  svg.append("line").attr("x1",a).attr("x2",b).attr("y1",981).attr("y2",981).attr("stroke",FRAME).attr("stroke-width",1.3);
});
[0.7,845,889.7,1732.3,1777.3].forEach(x=>svg.append("line").attr("x1",x).attr("x2",x).attr("y1",34).attr("y2",999).attr("stroke",FRAME).attr("stroke-width",1.6));
svg.append("line").attr("x1",0).attr("x2",1778).attr("y1",999).attr("y2",999).attr("stroke",FRAME).attr("stroke-width",1.5);

// axes ----------------------------------------------------------
rightAxis(845,yW,[800,750,700,650,600,550,500,450,400],null,null,[500]);
rightAxis(845,yWAtr,[55,50,45,40,35,30],null,null,[50]);
rightAxis(845,yWMacd,[60,40,20,0,-20,-40],[50,30,10,-10,-30],null,[]);
rightAxis(845,yWVol,[6000,4000,2000,0],[5000,3000,1000],d=>d===0?"0":d3.format(",")(d)+"k",[0]);
timeAxis(xW,weeklyTickBars,weeklyTickLabels,981);

rightAxis(1732.3,yD,[650,600,550,500,450,400],null,null,[500]);
rightAxis(1732.3,yDAtr,[22,20,18,16],[21,19,17,15],null,[20]);
rightAxis(1732.3,yDMacd,[30,20,10,0,-10,-20],null,null,[]);
rightAxis(1732.3,yDVol,[2000,1500,1000,500,0],null,d=>d===0?"0":d===500?"500,000":d3.format(",")(d)+"k",[0]);
timeAxis(xD,dailyTickBars,dailyTickLabels,981);

// last-value tags -----------------------------------------------
valueTag(845,yW(573.5),290,28.4,14.4,"573.5","#caa400","#ffcc00");
valueTag(845,yW(558.19),309,33.6,15,"558.19","#e06666");
valueTag(845,yWAtr(39.339),716,33.6,15,"39.339","#111");
valueTag(845,yWMacd(20.003),811.5,33.6,13,"20.003","#e06666");
valueTag(845,yWMacd(15.891),824.5,33.6,14,"15.891","#2a2ae8");
valueTag(845,yWMacd(-4.1121),840,36.6,14.5,"-4.1121","#e06666");
valueTag(845,yWVol(3334),931.7,31.6,12.8,"3,334k","#e06666");

valueTag(1732.3,yD(589.82),170,33.4,14.4,"589.82","#39b53c");
valueTag(1732.3,yD(573.5),196,28,14.7,"573.5","#caa400","#ffcc00");
valueTag(1732.3,yD(542.36),247.3,33.4,14,"542.36","#e06666");
valueTag(1732.3,yDAtr(15.605),750.7,33.4,14.4,"15.605","#111");
valueTag(1732.3,yDMacd(-3.1767),836.7,37.3,15,"-3.1767","#e06666");
valueTag(1732.3,yDMacd(-5.7178),846.7,37.3,15,"-5.7178","#e06666");
valueTag(1732.3,yDMacd(-8.8944),856.7,37.3,15,"-8.8944","#2a2ae8");
valueTag(1732.3,yDVol(774.707),940.7,39,15.3,"774,707","#39b53c");

// notes ---------------------------------------------------------
noteBox(984,133.3,1056,176.7,["PROCESO","FASE I"],[1017.7,1019.3],[146,162.7]);
noteBox(1470,54,1663.3,96.7,["INCORPORACIÓN FASE III","SUPERANDO LA ZONA 624 / 636"],[1566.7,1566.7],[66.7,83.3]);
noteBox(1425.7,277.3,1582.3,319.3,["FASE II CONSOLIDACIÓN","MEDIANTE BANDERA"],[1504,1504],[290,306.7]);
blueBox(912.7,311.7,964,329.3,"+70.65%");
blueBox(1093.7,599.3,1139.3,617.3,"3M 21D");

// legend chips --------------------------------------------------
const GR=[UP,DN];
legendChip(1,35,68,"Price",GR,42);
legendChip(71,35,61,"SMA (30)",["#e06666"]);
legendChip(1,637,88,"ATR (14)",["#000"],60);
legendChip(1,773,119,"MACD (12 26 9)",[UP,DN,"#3a3ae8"],90);
legendChip(1,888,81,"Volume",GR,52);
legendChip(891,35,67,"Price",GR,42);
legendChip(961,35,65,"SMA (200)",["#e06666"]);
legendChip(1030,35,65,"SMA (50)",["#39b53c"]);
legendChip(890.5,637,87.5,"ATR (14)",["#000"],60);
legendChip(890.5,773,118.5,"MACD (12 26 9)",[UP,DN,"#3a3ae8"],90);
legendChip(890.5,888,80.5,"Volume",GR,52);
</script>
</body>
</html>
